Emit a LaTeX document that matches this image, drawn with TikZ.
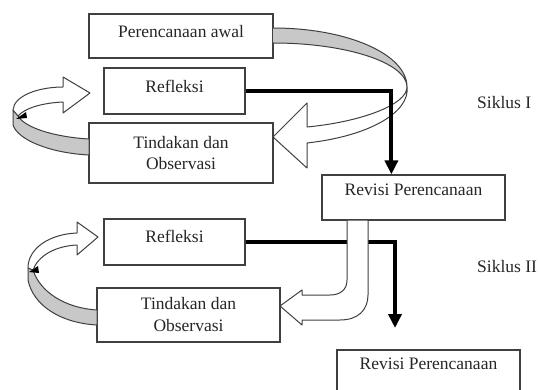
\documentclass[tikz,border=0pt]{standalone}
\usepackage{fontspec}
\setmainfont{Liberation Serif}
\usetikzlibrary{arrows.meta}
\definecolor{edge}{HTML}{404040}
\definecolor{bandgray}{HTML}{C8C8C8}
\begin{document}
\begin{tikzpicture}[x=1pt,y=-1pt,
  box/.style={draw=edge, line width=1.2pt, fill=white, inner sep=0pt,
    font=\fontsize{17.5}{21}\selectfont, align=center, text=black!85},
  lbl/.style={inner sep=0pt, font=\fontsize{17.5}{21}\selectfont, text=black!85},
  ribbon/.style={draw=edge, line width=1pt, line join=round},
  conn/.style={line width=4pt, black, -{Triangle[width=13pt,length=14pt]}}]
\clip (0,0) rectangle (540,390);
\fill[white] (0,0) rectangle (540,390);

% boxes
\node[box, minimum width=184pt, minimum height=44pt, text depth=10pt] (pa) at (181,36) {Perencanaan awal};
\node[box, minimum width=141pt, minimum height=46pt, text depth=10pt] (r1) at (174.5,91) {Refleksi};
\node[box, minimum width=184pt, minimum height=60pt] (t1) at (181,153) {Tindakan dan\\Observasi};
\node[box, minimum width=183pt, minimum height=45pt, text depth=15pt] (rv1) at (413.5,197.5) {Revisi Perencanaan};
\node[box, minimum width=141pt, minimum height=46pt, text depth=12pt] (r2) at (174.5,242) {Refleksi};
\node[box, minimum width=183pt, minimum height=54pt, font=\fontsize{17.5}{22}\selectfont] (t2) at (188.5,315) {Tindakan dan\\Observasi};
\node[box, minimum width=183pt, minimum height=45pt, text depth=18pt] (rv2) at (428.5,372.5) {Revisi Perencanaan};

\node[lbl, anchor=west] (s1) at (477,103) {Siklus I};
\node[lbl, anchor=west] (s2) at (477,267) {Siklus II};

% big ribbon arrow (cycle I)
\fill[bandgray] (273,28) .. controls (347,28) and (407,54) .. (407,87)
  .. controls (407,63) and (347,43) .. (273,43) -- cycle;
\draw[ribbon] (273,28) .. controls (347,28) and (407,54) .. (407,87)
  .. controls (407,63) and (347,43) .. (273,43);
\draw[ribbon, fill=white] (407,87) .. controls (407,105) and (360,122) .. (307,127)
  -- (307,103) -- (273,137) -- (307,168) -- (307,143)
  .. controls (370,136) and (410,112) .. (407,87) -- cycle;

% left ribbon arrow (cycle I)
\draw[ribbon, fill=bandgray] (13,110) -- (13,125) .. controls (18,140) and (50,153) .. (89,155)
  -- (89,139) .. controls (55,137) and (25,128) .. (18,116) -- cycle;
\draw[ribbon, fill=white] (13,110) .. controls (14,95) and (40,87) .. (63,87)
  -- (63,77) -- (90,93) -- (63,113) -- (63,102)
  .. controls (42,103) and (25,108) .. (18,116) -- cycle;
\fill[black] (16,119) -- (26,112) -- (27,118) -- cycle;

% left ribbon arrow (cycle II)
\draw[ribbon, fill=bandgray] (28,268) -- (28,280) .. controls (33,305) and (60,323) .. (97,325)
  -- (97,310) .. controls (65,308) and (40,292) .. (33,270) -- cycle;
\draw[ribbon, fill=white] (28,268) .. controls (28,248) and (50,234) .. (77,233)
  -- (77,222) -- (98,237) -- (77,255) -- (77,245)
  .. controls (55,246) and (38,256) .. (33,270) -- cycle;
\fill[black] (29,272) -- (38,266) -- (39,273) -- cycle;

% thick connectors
\draw[conn] (r1.east) -| ([xshift=70pt]rv1.north west);
\coordinate (e2) at (395,328);
\draw[conn] (r2.east) -| (e2);

% U-shaped arrow from Revisi to Tindakan (cycle II)
\draw[ribbon, fill=white] (347,220) -- (347,280) .. controls (347,290) and (340,295) .. (330,295)
  -- (302,295) -- (302,290) -- (280,306) -- (302,325) -- (302,320) -- (340,320)
  .. controls (358,320) and (368,310) .. (368,295) -- (368,220) -- cycle;
\end{tikzpicture}
\end{document}
